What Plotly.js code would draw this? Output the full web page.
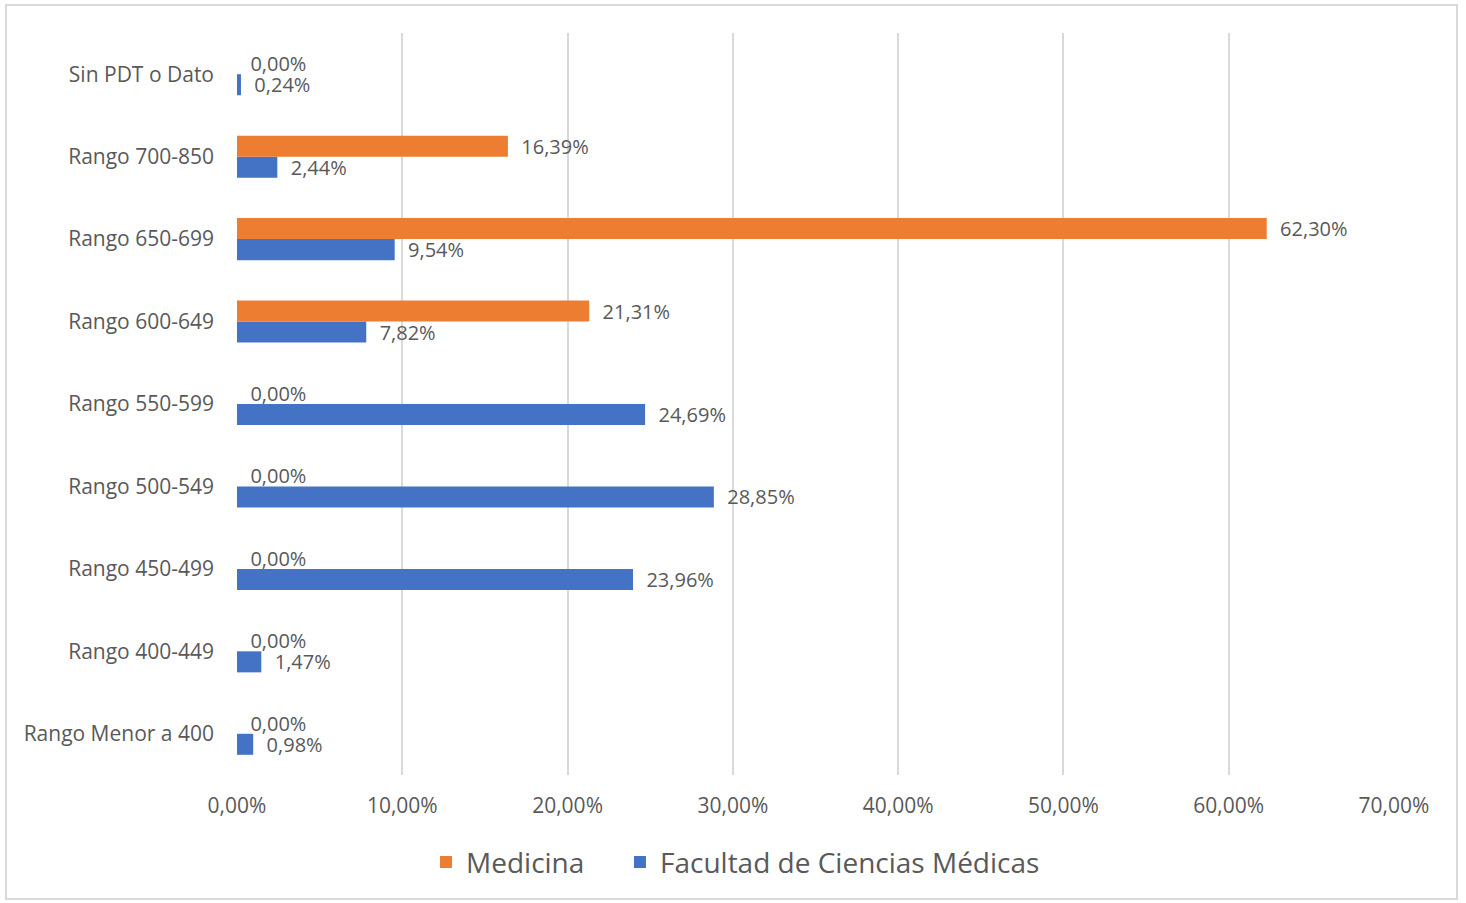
<!DOCTYPE html>
<html>
<head>
<meta charset="utf-8">
<script src="https://cdn.plot.ly/plotly-3.0.1.min.js"></script>
<style>
html,body{margin:0;padding:0;background:#fff;}
#frame{position:absolute;left:5px;top:4px;width:1453px;height:896px;border:2px solid #d9d9d9;box-sizing:border-box;}
#chart{position:absolute;left:0;top:0;width:1466px;height:903px;}
</style>
</head>
<body>
<div id="frame"></div>
<div id="chart"></div>
<script>
const categories = ["Rango Menor a 400","Rango 400-449","Rango 450-499","Rango 500-549","Rango 550-599","Rango 600-649","Rango 650-699","Rango 700-850","Sin PDT o Dato"];
const medicina = [0, 0, 0, 0, 0, 21.31, 62.30, 16.39, 0];
const facultad = [0.98, 1.47, 23.96, 28.85, 24.69, 7.82, 9.54, 2.44, 0.24];
const seriesNames = ["Medicina", "Facultad de Ciencias Médicas"];
const colors = ["#ED7D31", "#4472C4"];

const labelFont = {family: "Open Sans, sans-serif", size: 20, color: "#595959"};

const traces = [
  {type: "bar", orientation: "h", name: seriesNames[1], y: categories, x: facultad, legend: "legend2",
   marker: {color: colors[1]}, texttemplate: "  %{x:.2f}%", textposition: "outside",
   constraintext: "none", cliponaxis: false, textfont: labelFont, hoverinfo: "skip"},
  {type: "bar", orientation: "h", name: seriesNames[0], y: categories, x: medicina, legend: "legend",
   marker: {color: colors[0]}, texttemplate: "  %{x:.2f}%", textposition: "outside",
   constraintext: "none", cliponaxis: false, textfont: labelFont, hoverinfo: "skip"}
];

const legendBase = {orientation: "h", xref: "container", xanchor: "left", yref: "container", y: 0.045, yanchor: "middle",
                    font: {size: 28, color: "#595959"}, itemwidth: 30, bgcolor: "rgba(0,0,0,0)"};

const layout = {
  width: 1466, height: 903,
  paper_bgcolor: "rgba(0,0,0,0)", plot_bgcolor: "rgba(0,0,0,0)",
  separators: ",.",
  barmode: "group", bargap: 0.49, bargroupgap: 0,
  margin: {l: 237, r: 72, t: 33, b: 128},
  font: {family: "Open Sans, sans-serif", color: "#595959"},
  xaxis: {range: [0, 70], dtick: 10, tickformat: ".2f", ticksuffix: "%",
          showgrid: true, gridcolor: "#d9d9d9", gridwidth: 2, zeroline: false,
          showline: false, ticks: "", tickfont: {size: 21, color: "#595959"}, ticklabelstandoff: 16},
  yaxis: {type: "category", showgrid: false, zeroline: false, showline: false, ticks: "",
          tickfont: {size: 21, color: "#595959"}, ticklabelstandoff: 22},
  showlegend: true,
  legend: Object.assign({}, legendBase, {x: 0.2906}),
  legend2: Object.assign({}, legendBase, {x: 0.4229})
};

Plotly.newPlot("chart", traces, layout, {displayModeBar: false, staticPlot: true});
</script>
</body>
</html>
